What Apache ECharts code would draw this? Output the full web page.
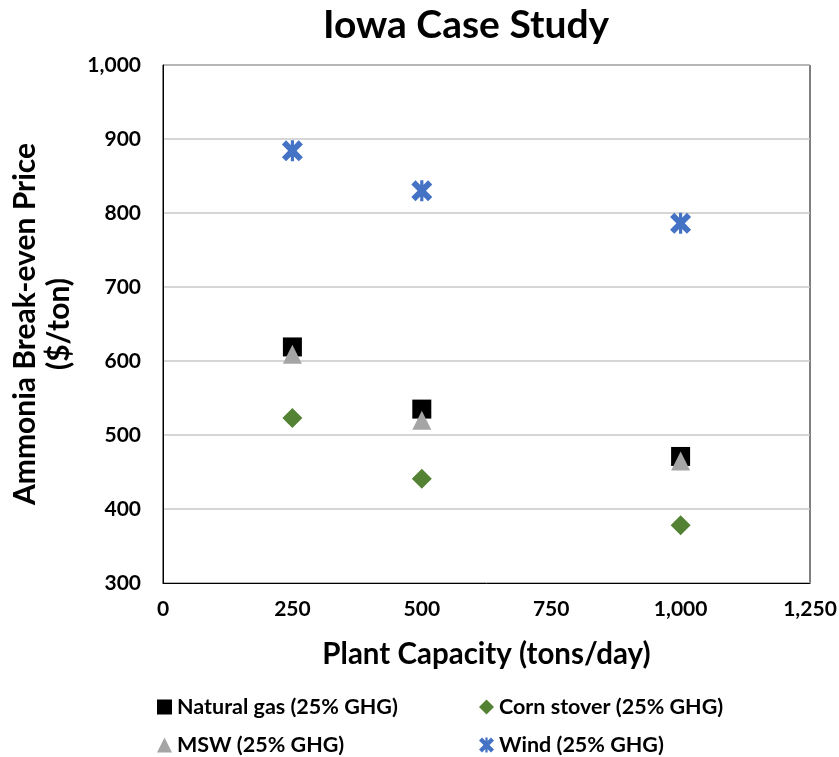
<!DOCTYPE html>
<html><head><meta charset="utf-8">
<script src="https://cdn.jsdelivr.net/npm/echarts@6/dist/echarts.min.js"></script>
<style>html,body{margin:0;padding:0;background:#fff}#c{width:839px;height:757px}</style>
</head><body><div id="c"></div>
<script>
const capacities = [250, 500, 1000];
const naturalGas = [619, 535, 471];
const cornStover = [523, 441, 378];
const msw = [609, 520, 465];
const wind = [884, 830, 786];
const seriesNames = ['Natural gas (25% GHG)', 'Corn stover (25% GHG)', 'MSW (25% GHG)', 'Wind (25% GHG)'];

const starPath = 'path://M4,0 L10,6 L16,0 L20,4 L14,10 L20,16 L16,20 L10,14 L4,20 L0,16 L6,10 L0,4 Z M8.5,0 L11.5,0 L11.5,20 L8.5,20 Z';
const F = 'Lato';
const pair = v => capacities.map((c, i) => [c, v[i]]);

const chart = echarts.init(document.getElementById('c'));
const mkLegend = (name, left, top, icon) => ({
  data: [{name: name, icon: icon}], left: left, top: top, itemWidth: 15, itemHeight: 15, itemGap: 6,
  textStyle: {fontFamily: F, fontWeight: 'bold', fontSize: 21.5, color: '#000'}
});
chart.setOption({
  animation: false,
  title: {text: 'Iowa Case Study', left: 318, top: 1,
    textStyle: {fontFamily: F, fontWeight: 'bold', fontSize: 39, color: '#000'}},
  grid: {left: 163, right: 29, top: 65, bottom: 174, show: true, borderColor: '#000', borderWidth: 1,
    containLabel: false, outerBoundsMode: 'none'},
  legend: [
    mkLegend(seriesNames[0], 152, 691, 'rect'),
    mkLegend(seriesNames[1], 474, 691, 'diamond'),
    mkLegend(seriesNames[2], 152, 729, 'triangle'),
    mkLegend(seriesNames[3], 474, 729, starPath)
  ],
  xAxis: {type: 'value', min: 0, max: 1250, interval: 250,
    name: 'Plant Capacity (tons/day)', nameLocation: 'middle', nameGap: 56,
    nameTextStyle: {fontFamily: F, fontWeight: 'bold', fontSize: 29.5, color: '#000'},
    axisLine: {show: true, lineStyle: {color: '#000'}}, axisTick: {show: false},
    splitLine: {show: false},
    axisLabel: {fontFamily: F, fontWeight: 'bold', fontSize: 21, color: '#000', margin: 16,
      formatter: v => v.toLocaleString('en-US')}},
  yAxis: {type: 'value', min: 300, max: 1000, interval: 100,
    name: 'Ammonia Break-even Price\n($/ton)', nameLocation: 'middle', nameGap: 87,
    nameTextStyle: {fontFamily: F, fontWeight: 'bold', fontSize: 30, color: '#000', lineHeight: 34},
    axisLine: {show: true, lineStyle: {color: '#000'}}, axisTick: {show: false},
    splitLine: {show: true, lineStyle: {color: '#c8c8c8', width: 1.5}},
    axisLabel: {fontFamily: F, fontWeight: 'bold', fontSize: 21, color: '#000', margin: 22,
      formatter: v => v.toLocaleString('en-US')}},
  series: [
    {name: seriesNames[0], type: 'scatter', symbol: 'rect', symbolSize: 19, data: pair(naturalGas), itemStyle: {color: '#000', opacity: 1}, z: 2},
    {name: seriesNames[1], type: 'scatter', symbol: 'diamond', symbolSize: 20, data: pair(cornStover), itemStyle: {color: '#548235', opacity: 1}, z: 3},
    {name: seriesNames[2], type: 'scatter', symbol: 'triangle', symbolSize: 19, data: pair(msw), itemStyle: {color: '#a5a5a5', opacity: 1}, z: 4},
    {name: seriesNames[3], type: 'scatter', symbol: starPath, symbolSize: 21, data: pair(wind), itemStyle: {color: '#4472c4', opacity: 1}, z: 5}
  ]
});
</script></body></html>
